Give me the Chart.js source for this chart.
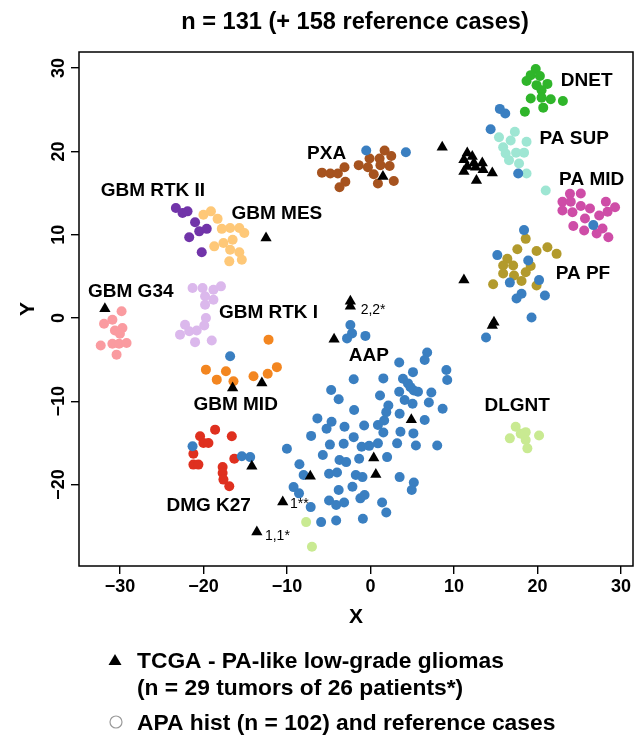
<!DOCTYPE html>
<html>
<head>
<meta charset="utf-8">
<script src="https://cdn.jsdelivr.net/npm/chart.js@4.4.1/dist/chart.umd.min.js"></script>
<style>
  body { margin: 0; background: #fff; }
  #wrap { width: 644px; height: 735px; }
</style>
</head>
<body>
<div id="wrap"><canvas id="tsne" width="644" height="735"></canvas></div>
<script>
// cluster points, [x, y]
var tcga = [[-12.5, 9.6], [-31.8, 1.1], [-16.5, -8.4], [-13.0, -7.8], [-14.2, -17.8], [-10.5, -22.1],
    [-13.6, -25.7], [-2.4, 2.0], [-2.4, 1.4], [-4.35, -2.55], [4.9, -12.2], [0.4, -16.8], [0.65, -18.8],
    [-7.2, -19.0], [1.5, 17.0], [8.6, 20.5], [11.6, 19.8], [12.2, 19.4], [11.2, 19.0], [12.4, 18.6],
    [13.4, 18.6], [11.6, 18.2], [12.6, 18.1], [11.2, 17.6], [13.5, 17.8], [14.6, 17.4], [12.7, 16.5],
    [11.2, 4.55], [14.8, -0.5], [14.6, -0.9]];
var apa = [[-0.5, 20.1], [4.25, 19.9], [15.5, 25.1], [16.15, 24.55], [14.4, 22.65], [17.7, 17.35],
    [26.7, 11.15], [18.4, 10.55], [15.2, 7.55], [18.9, 6.9], [16.7, 4.25], [20.2, 4.55], [18.1, 2.9],
    [17.5, 2.35], [20.9, 2.7], [19.3, 0.05], [13.85, -2.35], [-16.8, -4.6], [-21.3, -15.4], [-15.4, -16.6],
    [-14.4, -16.7], [-2.4, -0.85], [-2.2, -1.85], [-2.8, -2.45], [-0.6, -2.15],
    [6.8, -4.15], [6.5, -5.05], [3.45, -5.35], [5.1, -6.5], [9.1, -6.25], [9.2, -7.45], [-2.0, -7.35],
    [1.55, -7.25], [3.9, -7.3], [4.5, -7.85], [4.8, -8.3], [5.2, -8.7], [5.7, -8.85], [7.3, -8.95],
    [3.45, -8.85], [1.15, -9.3], [-4.7, -8.65], [-3.8, -9.75], [4.1, -9.85], [5.05, -10.3], [7.0, -10.15],
    [2.15, -10.5], [1.9, -11.3], [-1.95, -11.05], [8.65, -10.9], [3.5, -11.5], [-6.35, -12.05],
    [-4.65, -12.45], [-5.25, -13.3], [-3.1, -13.05], [-0.75, -12.9], [0.9, -12.85], [1.65, -12.3],
    [6.5, -12.25], [1.55, -13.75], [3.6, -13.65], [5.15, -13.85], [-7.1, -14.15], [-2.0, -14.3],
    [-4.85, -15.2], [-3.2, -15.1], [-1.05, -15.45], [-0.15, -15.35], [0.9, -15.05], [3.2, -15.05],
    [5.45, -15.3], [8.0, -15.3], [-10.0, -15.7], [-5.7, -16.45], [-3.7, -17.05], [-2.9, -17.3],
    [-1.35, -16.9], [2.0, -16.7], [-8.5, -17.55], [-8.0, -18.85], [-4.95, -18.7], [-4.0, -18.55],
    [-1.75, -18.85], [-0.95, -19.1], [3.5, -19.1], [5.2, -19.75], [4.95, -20.65], [-2.15, -20.25],
    [-3.8, -20.65], [-9.2, -20.3], [-8.55, -21.05], [-4.95, -21.9], [-4.1, -22.45], [-3.15, -22.15],
    [-1.2, -21.65], [-0.7, -21.25], [1.4, -22.15], [1.9, -23.35], [-7.15, -22.7], [-5.9, -24.5],
    [-4.1, -24.3], [-0.9, -24.1]];
var dnet = [[19.8, 29.9], [19.2, 29.15], [20.3, 29.05], [18.7, 28.45], [19.9, 27.95], [21.2, 28.1],
    [20.5, 27.35], [19.2, 26.35], [20.5, 26.45], [21.6, 26.25], [23.05, 26.05], [18.5, 24.75], [20.7, 25.25]];
var paSup = [[17.3, 22.35], [15.4, 21.7], [16.8, 21.3], [18.7, 21.15], [15.9, 20.5], [16.2, 19.75],
    [17.45, 19.85], [18.4, 19.85], [16.6, 18.95], [17.8, 18.55], [18.7, 17.35], [21.0, 15.3]];
var paMid = [[23.9, 14.9], [25.2, 14.95], [23.0, 13.95], [24.0, 13.95], [25.2, 13.45], [26.3, 13.15],
    [28.2, 13.95], [29.3, 13.3], [23.0, 12.9], [24.2, 12.7], [28.4, 12.75], [27.4, 12.3], [25.7, 11.95],
    [24.3, 11.05], [25.6, 10.5], [27.8, 10.75], [28.5, 9.7], [27.1, 10.15]];
var paPf = [[18.6, 9.5], [17.6, 8.25], [19.9, 8.05], [21.2, 8.5], [22.3, 7.7], [16.4, 7.1], [15.9, 6.3],
    [17.1, 6.3], [19.2, 6.25], [15.9, 5.35], [17.2, 5.1], [18.6, 5.5], [18.1, 4.45], [14.7, 4.05], [19.9, 3.9]];
var pxa = [[1.7, 20.1], [2.5, 19.45], [-0.1, 19.15], [1.1, 19.15], [1.2, 18.35], [2.3, 18.25], [-1.4, 18.35],
    [-0.3, 18.1], [0.4, 17.25], [0.9, 16.15], [2.8, 16.45], [-5.8, 17.45], [-4.8, 17.35], [-3.9, 17.35],
    [-3.1, 18.1], [-3.0, 16.35], [-3.7, 15.7]];
var gbmRtk2 = [[-23.3, 13.2], [-22.5, 12.6], [-21.9, 12.8], [-21.0, 11.5], [-20.5, 10.4], [-19.6, 10.7],
    [-21.7, 9.7], [-20.2, 7.9]];
var gbmMes = [[-20.0, 12.4], [-19.1, 12.8], [-18.3, 11.9], [-17.8, 10.7], [-16.8, 10.8], [-15.7, 10.8],
    [-15.1, 10.2], [-18.7, 8.6], [-17.6, 9.0], [-16.5, 9.4], [-16.8, 8.2], [-15.7, 7.9], [-16.9, 6.8], [-15.4, 7.0]];
var gbmG34 = [[-29.8, 0.8], [-30.9, -0.2], [-31.9, -0.7], [-29.7, -1.2], [-30.6, -1.5], [-30.0, -1.9],
    [-32.3, -3.3], [-30.9, -3.1], [-30.1, -3.1], [-29.2, -3.0], [-30.4, -4.4]];
var gbmRtk1 = [[-21.3, 3.6], [-20.1, 3.6], [-18.8, 3.4], [-17.9, 3.8], [-19.8, 2.6], [-18.8, 2.2],
    [-19.8, 1.6], [-19.7, 0.0], [-19.9, -0.9], [-22.2, -0.8], [-21.7, -1.6], [-20.8, -1.5], [-22.8, -2.0],
    [-21.0, -2.9], [-19.0, -2.7]];
var gbmMid = [[-12.2, -2.6], [-19.7, -6.2], [-18.4, -7.4], [-17.3, -6.4], [-16.4, -7.6], [-14.0, -7.0],
    [-12.3, -6.7], [-11.2, -5.9]];
var dmgK27 = [[-18.6, -13.4], [-20.4, -14.2], [-20.0, -15.0], [-19.4, -15.0], [-16.6, -14.2], [-21.2, -16.3],
    [-21.2, -17.6], [-20.6, -17.6], [-16.3, -16.9], [-17.7, -17.9], [-17.7, -18.6], [-17.6, -19.4], [-16.9, -20.2]];
var dlgnt = [[17.4, -13.05], [18.0, -13.9], [18.6, -13.7], [20.2, -14.1], [16.7, -14.45], [18.6, -14.65],
    [18.8, -15.65], [-7.7, -24.5], [-7.0, -27.45]];

// text placed in data units: [text, x, y]
var clusterNames = [["DNET", 25.9, 28.45], ["PA SUP", 24.4, 21.55], ["PA MID", 26.5, 16.6], ["PXA", -5.25, 19.7],
    ["GBM RTK II", -26.05, 15.33], ["GBM MES", -11.2, 12.48], ["PA PF", 25.45, 5.28], ["GBM G34", -28.7, 3.12],
    ["GBM RTK I", -12.2, 0.66], ["AAP", -0.18, -4.54], ["GBM MID", -16.14, -10.44], ["DLGNT", 17.58, -10.5],
    ["DMG K27", -19.37, -22.57]];
var caseNotes = [["2,2*", -1.17, 0.96], ["1**", -9.64, -22.33], ["1,1*", -12.63, -26.13]];

var xTicks = [-30, -20, -10, 0, 10, 20, 30];
var yTicks = [-20, -10, 0, 10, 20, 30];

var FONT = '"Liberation Sans", Arial, Helvetica, sans-serif';

function pts(arr) {
    return arr.map(function (p) { return { x: p[0], y: p[1] }; });
}
function group(name, arr, color) {
    return {
        label: name, data: pts(arr), backgroundColor: color,
        pointRadius: 5, pointBorderWidth: 0, pointStyle: "circle"
    };
}

var decor = {
    id: "decor",
    afterDraw: function (chart) {
        var ctx = chart.ctx, a = chart.chartArea;
        var sx = chart.scales.x, sy = chart.scales.y;
        ctx.save();
        ctx.strokeStyle = "#000";
        ctx.lineWidth = 1.5;
        ctx.strokeRect(a.left, a.top, a.right - a.left, a.bottom - a.top);

        ctx.fillStyle = "#000";
        // title
        ctx.font = "bold 23.6px " + FONT;
        ctx.textAlign = "center";
        ctx.textBaseline = "alphabetic";
        ctx.fillText("n = 131 (+ 158 reference cases)", 355, 29);

        // y tick labels, rotated like base R
        ctx.font = "bold 18px " + FONT;
        ctx.textBaseline = "middle";
        yTicks.forEach(function (v) {
            ctx.save();
            ctx.translate(59, sy.getPixelForValue(v));
            ctx.rotate(-Math.PI / 2);
            ctx.fillText(String(v).replace("-", "\u2212"), 0, 0);
            ctx.restore();
        });

        // axis titles
        ctx.font = "bold 21px " + FONT;
        ctx.fillText("X", (a.left + a.right) / 2, 617);
        ctx.save();
        ctx.translate(28, (a.top + a.bottom) / 2);
        ctx.rotate(-Math.PI / 2);
        ctx.fillText("Y", 0, 0);
        ctx.restore();

        // cluster names
        ctx.font = "bold 19px " + FONT;
        clusterNames.forEach(function (c) {
            ctx.fillText(c[0], sx.getPixelForValue(c[1]), sy.getPixelForValue(c[2]));
        });

        // patient notes
        ctx.font = "14px " + FONT;
        ctx.textAlign = "left";
        caseNotes.forEach(function (c) {
            ctx.fillText(c[0], sx.getPixelForValue(c[1]), sy.getPixelForValue(c[2]));
        });

        // legend
        ctx.beginPath();
        ctx.moveTo(115, 654);
        ctx.lineTo(121.5, 665);
        ctx.lineTo(108.5, 665);
        ctx.closePath();
        ctx.fill();
        ctx.font = "bold 22.8px " + FONT;
        ctx.textBaseline = "alphabetic";
        ctx.fillText("TCGA - PA-like low-grade gliomas", 137, 668);
        ctx.fillText("(n = 29 tumors of 26 patients*)", 137, 695);
        ctx.fillText("APA hist (n = 102) and reference cases", 137, 730);
        ctx.beginPath();
        ctx.arc(116, 722, 6, 0, Math.PI * 2);
        ctx.strokeStyle = "#9a9a9a";
        ctx.lineWidth = 1.2;
        ctx.stroke();
        ctx.restore();
    }
};

var chart = new Chart(document.getElementById("tsne"), {
    type: "scatter",
    data: {
        datasets: [
            {
                label: "TCGA", data: pts(tcga), backgroundColor: "#000",
                pointRadius: 6.5, pointBorderWidth: 0, pointStyle: "triangle"
            },
            group("APA", apa, "#3a7fc1"),
            group("DNET", dnet, "#2fb52a"),
            group("PA SUP", paSup, "#9ee6d3"),
            group("PA MID", paMid, "#ce4da7"),
            group("PA PF", paPf, "#b29a2c"),
            group("PXA", pxa, "#a6531f"),
            group("GBM RTK II", gbmRtk2, "#7134a9"),
            group("GBM MES", gbmMes, "#fec878"),
            group("GBM G34", gbmG34, "#fa9ba0"),
            group("GBM RTK I", gbmRtk1, "#dbb8ec"),
            group("GBM MID", gbmMid, "#f38620"),
            group("DMG K27", dmgK27, "#df301f"),
            group("DLGNT", dlgnt, "#c9ea92")
        ]
    },
    options: {
        responsive: false,
        animation: false,
        events: [],
        layout: { autoPadding: false, padding: { left: 0, top: 52, right: 11, bottom: 100 } },
        plugins: { legend: { display: false }, tooltip: { enabled: false } },
        scales: {
            x: {
                type: "linear", min: -34.9, max: 31.45,
                afterFit: function (s) { s.height = 69; },
                afterBuildTicks: function (s) { s.ticks = xTicks.map(function (v) { return { value: v }; }); },
                border: { display: false },
                grid: { drawOnChartArea: false, drawTicks: true, tickLength: 8, color: "#000", lineWidth: 1.4 },
                ticks: {
                    padding: 2, color: "#000", maxRotation: 0,
                    font: { family: FONT, size: 18, weight: "bold" },
                    callback: function (v) { return String(v).replace("-", "\u2212"); }
                }
            },
            y: {
                type: "linear", min: -29.77, max: 31.93,
                afterFit: function (s) { s.width = 79; },
                afterBuildTicks: function (s) { s.ticks = yTicks.map(function (v) { return { value: v }; }); },
                border: { display: false },
                grid: { drawOnChartArea: false, drawTicks: true, tickLength: 8, color: "#000", lineWidth: 1.4 },
                ticks: { display: false }
            }
        }
    },
    plugins: [decor]
});
</script>
</body>
</html>
